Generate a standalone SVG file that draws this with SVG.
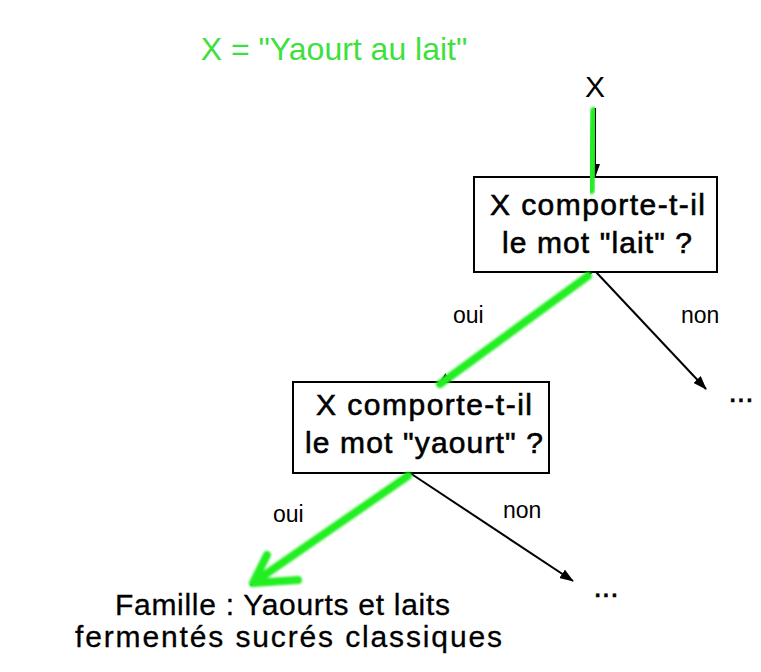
<svg xmlns="http://www.w3.org/2000/svg" width="761" height="672" viewBox="0 0 761 672">
<style>
text{font-family:"Liberation Sans",Arial,sans-serif;fill:#000}
.t{font-size:30px;text-anchor:middle;stroke:#000;stroke-width:0.6}
.r{stroke-width:0.3}
.lbl{font-size:23px}
.title{font-size:32px;fill:#3ee03e;text-anchor:middle}
.box{fill:#fff;stroke:#000;stroke-width:2}
.ar{stroke:#000;stroke-width:2;fill:none;marker-end:url(#ah)}
.gr{stroke:#22ee22;stroke-width:8;stroke-linecap:round;fill:none;filter:url(#soft)}
</style>
<defs>
<marker id="ah" viewBox="0 0 14 10" refX="13" refY="5" markerWidth="14" markerHeight="10" markerUnits="userSpaceOnUse" orient="auto">
<path d="M0,0 L14,5 L0,10 z" fill="#000"/>
</marker>
<filter id="soft" x="-10%" y="-10%" width="120%" height="120%"><feGaussianBlur stdDeviation="0.8"/></filter>
</defs>
<rect width="761" height="672" fill="#fff"/>
<text class="title" x="334" y="60">X = "Yaourt au lait"</text>
<g id="start"><text class="t" x="595" y="97" style="stroke-width:0">X</text></g>
<g id="q1">
<rect class="box" x="474" y="177" width="243" height="95"/>
<text class="t" x="597.5" y="215" textLength="215" lengthAdjust="spacing">X comporte-t-il</text>
<text class="t" x="597" y="253" textLength="190" lengthAdjust="spacing">le mot "lait" ?</text>
</g>
<g id="q2">
<rect class="box" x="293" y="382" width="256" height="91"/>
<text class="t" x="424" y="415" textLength="216" lengthAdjust="spacing">X comporte-t-il</text>
<text class="t" x="424" y="453" textLength="238" lengthAdjust="spacing">le mot "yaourt" ?</text>
</g>
<g id="etc1"><text class="t" x="741" y="402">...</text></g>
<g id="etc2"><text class="t" x="606" y="597">...</text></g>
<g id="result">
<text class="t r" x="282.5" y="615" font-size="31" textLength="335" lengthAdjust="spacing">Famille : Yaourts et laits</text>
<text class="t r" x="288.5" y="647" font-size="31" textLength="427" lengthAdjust="spacing">fermentés sucrés classiques</text>
</g>
<g id="connectors">
<line class="ar" x1="595" y1="108" x2="595" y2="177"/>
<line class="ar" x1="592" y1="272" x2="438" y2="385"/>
<line class="ar" x1="596" y1="272" x2="706" y2="389"/>
<line class="ar" x1="410" y1="473" x2="251" y2="585"/>
<line class="ar" x1="410" y1="473" x2="573" y2="581"/>
<path class="gr" d="M594,111 L591,190"/>
<path class="gr" d="M588,276 L440,384"/>
<path class="gr" d="M408,476 L253,583 M253,583 L267,555 M253,583 L298,580"/>
<text class="lbl" x="453" y="323">oui</text>
<text class="lbl" x="681" y="323">non</text>
<text class="lbl" x="273" y="522">oui</text>
<text class="lbl" x="503" y="518">non</text>
</g>
</svg>
